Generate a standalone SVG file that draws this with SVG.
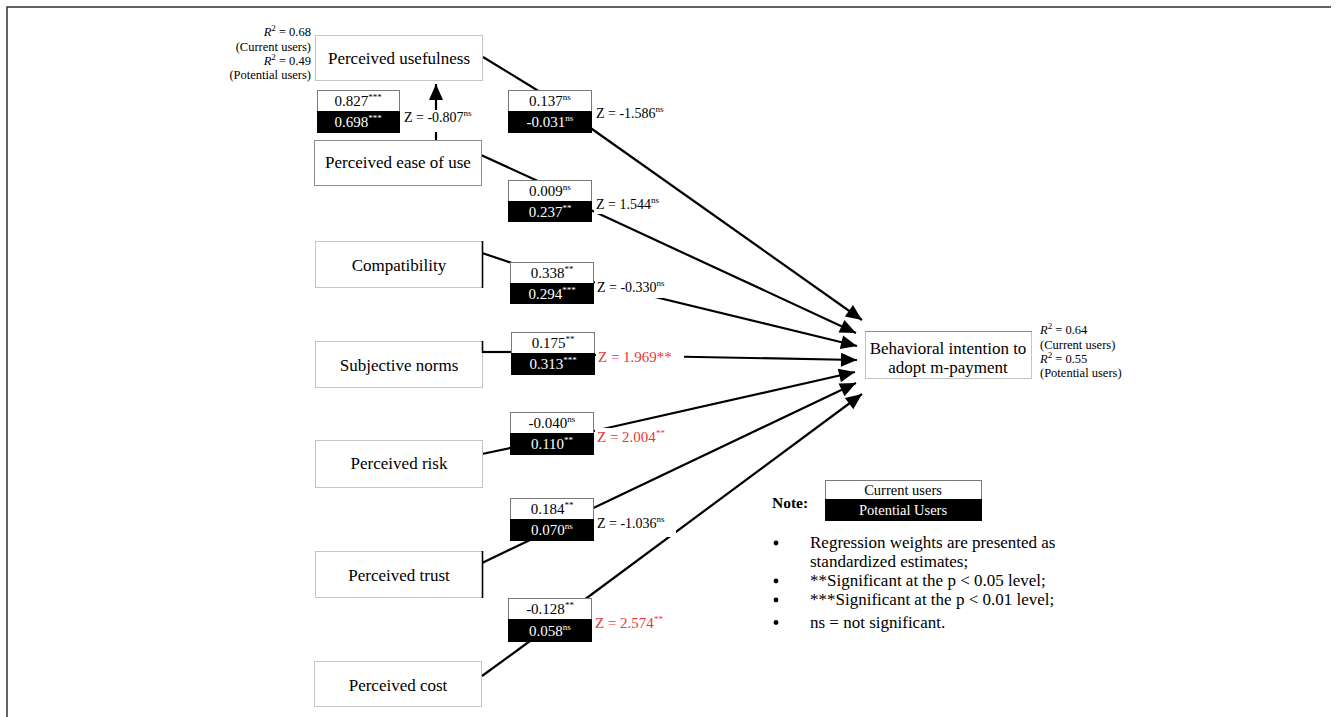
<svg xmlns="http://www.w3.org/2000/svg" width="1338" height="717" viewBox="0 0 1338 717">
<style>
text{font-family:"Liberation Serif","Times New Roman",serif;fill:#000}
.node rect{fill:#fff;stroke:#c4c4c4;stroke-width:1}
.nt{font-size:17px;text-anchor:middle}
.cw{fill:#fff;stroke:#7a7a7a;stroke-width:1}
.cb{fill:#000}
.ct{font-size:15px;text-anchor:middle}
.ctw{font-size:15px;text-anchor:middle;fill:#fff}
.sup{font-size:9px}
.z{font-size:14px}
.zr{font-size:15px;fill:#ee3535}
.zr tspan{fill:#ee3535}
.ctw tspan{fill:#fff}
.zbg{fill:#fff}
.r2{font-size:12.5px}
.conn line{stroke:#000;stroke-width:2.2;fill:none}
.edge{stroke:#000;stroke-width:1.6}
.note{font-size:17px}
</style>
<defs>
<marker id="ah" markerUnits="userSpaceOnUse" markerWidth="18" markerHeight="16" refX="16" refY="7" orient="auto" overflow="visible"><path d="M0,0 L16,7 L0,14 z" fill="#000"/></marker>
</defs>
<rect width="1338" height="717" fill="#fff"/>
<path d="M7,717 V7 H1331" fill="none" stroke="#333" stroke-width="1.5"/>

<g id="connectors" class="conn">
<line x1="436" y1="140" x2="436" y2="84" stroke-width="3" marker-end="url(#ah)"/>
<line x1="483" y1="57" x2="545" y2="95"/>
<line x1="575" y1="117" x2="862" y2="320" marker-end="url(#ah)"/>
<line x1="481" y1="155" x2="540" y2="182"/>
<line x1="580" y1="205" x2="856" y2="333" marker-end="url(#ah)"/>
<line x1="482" y1="253" x2="515" y2="264"/>
<line x1="585" y1="280" x2="857" y2="346" marker-end="url(#ah)"/>
<line x1="483" y1="352" x2="515" y2="352"/>
<line x1="590" y1="355" x2="857" y2="360" marker-end="url(#ah)"/>
<line x1="482" y1="454" x2="515" y2="447"/>
<line x1="585" y1="433" x2="855" y2="372" marker-end="url(#ah)"/>
<line x1="482" y1="563" x2="530" y2="540"/>
<line x1="585" y1="512" x2="856" y2="383" marker-end="url(#ah)"/>
<line x1="482" y1="676" x2="530" y2="641"/>
<line x1="580" y1="603" x2="862" y2="394" marker-end="url(#ah)"/>
</g>

<g id="node-pu" class="node">
<rect x="315.5" y="35.5" width="167" height="45"/>
<text class="nt" x="399" y="64">Perceived usefulness</text>
</g>
<g id="r2-pu">
<text class="r2" x="311" y="36" text-anchor="end"><tspan font-style="italic">R</tspan><tspan class="sup" dy="-5">2</tspan><tspan dy="5"> = 0.68</tspan></text>
<text class="r2" x="311" y="50.5" text-anchor="end">(Current users)</text>
<text class="r2" x="311" y="64.5" text-anchor="end"><tspan font-style="italic">R</tspan><tspan class="sup" dy="-5">2</tspan><tspan dy="5"> = 0.49</tspan></text>
<text class="r2" x="311" y="79" text-anchor="end">(Potential users)</text>
</g>
<g id="node-peou" class="node">
<rect x="314.5" y="140.5" width="167" height="45" style="stroke:#8f8f8f"/>
<text class="nt" x="398" y="168">Perceived ease of use</text>
</g>
<g id="node-compat" class="node">
<rect x="315.5" y="241.5" width="167" height="46"/>
<line class="edge" x1="482.5" y1="241" x2="482.5" y2="288"/>
<text class="nt" x="399" y="271">Compatibility</text>
</g>
<g id="node-sn" class="node">
<rect x="315.5" y="341.5" width="167" height="46"/>
<line class="edge" x1="482.5" y1="341" x2="482.5" y2="353"/>
<text class="nt" x="399" y="371">Subjective norms</text>
</g>
<g id="node-risk" class="node">
<rect x="315.5" y="440.5" width="167" height="47"/>
<text class="nt" x="399" y="469">Perceived risk</text>
</g>
<g id="node-trust" class="node">
<rect x="315.5" y="551.5" width="167" height="46"/>
<line class="edge" x1="482.5" y1="551" x2="482.5" y2="598"/>
<text class="nt" x="399" y="581">Perceived trust</text>
</g>
<g id="node-cost" class="node">
<rect x="314.5" y="661.5" width="167" height="45"/>
<text class="nt" x="398" y="691">Perceived cost</text>
</g>
<g id="node-bi" class="node">
<rect x="865.5" y="331.5" width="166" height="47"/>
<line x1="865" y1="331.5" x2="1032" y2="331.5" stroke="#8a8a8a" stroke-width="1"/>
<text class="nt" x="948" y="354">Behavioral intention to</text>
<text class="nt" x="948" y="373">adopt m-payment</text>
</g>
<g id="r2-bi">
<text class="r2" x="1040" y="334"><tspan font-style="italic">R</tspan><tspan class="sup" dy="-5">2</tspan><tspan dy="5"> = 0.64</tspan></text>
<text class="r2" x="1040" y="348.5">(Current users)</text>
<text class="r2" x="1040" y="362.5"><tspan font-style="italic">R</tspan><tspan class="sup" dy="-5">2</tspan><tspan dy="5"> = 0.55</tspan></text>
<text class="r2" x="1040" y="377">(Potential users)</text>
</g>

<g id="labels">
<rect class="cw" x="317.5" y="90.5" width="82" height="21"/>
<rect class="cb" x="317" y="111" width="83" height="22"/>
<text class="ct" x="358" y="106">0.827<tspan class="sup" dy="-6">***</tspan></text>
<text class="ctw" x="358" y="127">0.698<tspan class="sup" dy="-6">***</tspan></text>
<rect class="zbg" x="402" y="110" width="76" height="22"/>
<text class="z" x="404" y="122">Z = -0.807<tspan class="sup" dy="-6">ns</tspan></text>

<rect class="cw" x="508.5" y="90.5" width="83" height="21"/>
<rect class="cb" x="508" y="111" width="84" height="22"/>
<text class="ct" x="550" y="106">0.137<tspan class="sup" dy="-6">ns</tspan></text>
<text class="ctw" x="550" y="127">-0.031<tspan class="sup" dy="-6">ns</tspan></text>
<text class="z" x="596" y="118">Z = -1.586<tspan class="sup" dy="-6">ns</tspan></text>

<rect class="cw" x="508.5" y="180.5" width="83" height="21"/>
<rect class="cb" x="508" y="201" width="84" height="21"/>
<text class="ct" x="550" y="196">0.009<tspan class="sup" dy="-6">ns</tspan></text>
<text class="ctw" x="550" y="217">0.237<tspan class="sup" dy="-6">**</tspan></text>
<rect class="zbg" x="594" y="197" width="78" height="17"/>
<text class="z" x="596" y="209">Z = 1.544<tspan class="sup" dy="-6">ns</tspan></text>

<rect class="cw" x="510.5" y="262.5" width="83" height="21"/>
<rect class="cb" x="510" y="283" width="84" height="21"/>
<text class="ct" x="552" y="278">0.338<tspan class="sup" dy="-6">**</tspan></text>
<text class="ctw" x="552" y="299">0.294<tspan class="sup" dy="-6">***</tspan></text>
<rect class="zbg" x="595" y="280" width="77" height="18"/>
<text class="z" x="597" y="292">Z = -0.330<tspan class="sup" dy="-6">ns</tspan></text>

<rect class="cw" x="511.5" y="332.5" width="83" height="21"/>
<rect class="cb" x="511" y="353" width="84" height="22"/>
<text class="ct" x="553" y="348">0.175<tspan class="sup" dy="-6">**</tspan></text>
<text class="ctw" x="553" y="369">0.313<tspan class="sup" dy="-6">***</tspan></text>
<rect class="zbg" x="596" y="347" width="88" height="19"/>
<text class="zr" x="598" y="362">Z = 1.969**</text>

<rect class="cw" x="510.5" y="412.5" width="83" height="21"/>
<rect class="cb" x="510" y="433" width="84" height="22"/>
<text class="ct" x="552" y="428">-0.040<tspan class="sup" dy="-6">ns</tspan></text>
<text class="ctw" x="552" y="449">0.110<tspan class="sup" dy="-6">**</tspan></text>
<rect class="zbg" x="595" y="428" width="76" height="19"/>
<text class="zr" x="597" y="442">Z = 2.004<tspan class="sup" dy="-6">**</tspan></text>

<rect class="cw" x="510.5" y="498.5" width="83" height="21"/>
<rect class="cb" x="510" y="519" width="84" height="22"/>
<text class="ct" x="552" y="514">0.184<tspan class="sup" dy="-6">**</tspan></text>
<text class="ctw" x="552" y="535">0.070<tspan class="sup" dy="-6">ns</tspan></text>
<rect class="zbg" x="595" y="513" width="81" height="24"/>
<text class="z" x="597" y="528">Z = -1.036<tspan class="sup" dy="-6">ns</tspan></text>

<rect class="cw" x="508.5" y="598.5" width="83" height="21"/>
<rect class="cb" x="508" y="619" width="84" height="23"/>
<text class="ct" x="550" y="614">-0.128<tspan class="sup" dy="-6">**</tspan></text>
<text class="ctw" x="550" y="636">0.058<tspan class="sup" dy="-6">ns</tspan></text>
<rect class="zbg" x="593" y="614" width="77" height="19"/>
<text class="zr" x="595" y="628">Z = 2.574<tspan class="sup" dy="-6">**</tspan></text>
</g>

<g id="legend">
<text x="772" y="508" font-size="15.5" font-weight="bold">Note:</text>
<rect x="825.5" y="480.5" width="156" height="19" fill="#fff" stroke="#7a7a7a" stroke-width="1"/>
<rect x="825" y="499" width="157" height="22" fill="#000"/>
<text x="903" y="495" font-size="14.5" text-anchor="middle">Current users</text>
<text x="903" y="515" font-size="14.5" text-anchor="middle" style="fill:#fff">Potential Users</text>
<g fill="#000">
<circle cx="776" cy="543" r="2.4"/>
<circle cx="776" cy="581" r="2.4"/>
<circle cx="776" cy="600" r="2.4"/>
<circle cx="776" cy="622.5" r="2.4"/>
</g>
<text class="note" x="810" y="548">Regression weights are presented as</text>
<text class="note" x="810" y="567">standardized estimates;</text>
<text class="note" x="810" y="586">**Significant at the p &lt; 0.05 level;</text>
<text class="note" x="810" y="605">***Significant at the p &lt; 0.01 level;</text>
<text class="note" x="810" y="628">ns = not significant.</text>
</g>
</svg>
